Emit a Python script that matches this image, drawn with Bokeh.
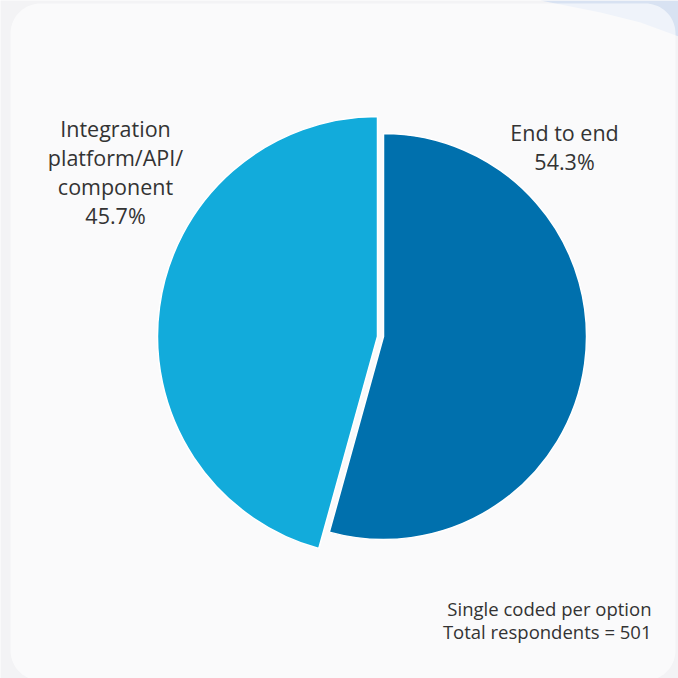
import numpy as np
from bokeh.plotting import figure
from bokeh.models import Range1d
from bokeh.core.properties import value
from bokeh.embed import file_html
from bokeh.resources import INLINE

# ---- data ----
categories = ["End to end", "Integration platform/API/component"]
label_lines = [["End to end"], ["Integration", "platform/API/", "component"]]
shares = [54.3, 45.7]
colors = ["#0070AD", "#12ABDB"]
footnote = ["Single coded per option", "Total respondents = 501"]

W = H = 678
p = figure(width=W, height=H, output_backend="svg", toolbar_location=None,
           x_range=Range1d(0, W), y_range=Range1d(0, H), min_border=0)
p.axis.visible = False
p.grid.visible = False
p.outline_line_color = None
p.background_fill_color = "#f3f3f5"
p.border_fill_color = "#f3f3f5"

def Y(sy):
    return H - sy

# decorative wave top right
wx = [540, 600, 640, 678, 700, 700]
wy = [0, 12, 22, 36, 36, 0]
p.patch(wx, [Y(v) for v in wy], fill_color="#d8e2f2", line_color=None)

# rounded card
def rounded(x0, y0, x1, y1, r, n=20):
    xs, ys = [], []
    corners = [(x1 - r, y0 + r, -90, 0), (x1 - r, y1 - r, 0, 90),
               (x0 + r, y1 - r, 90, 180), (x0 + r, y0 + r, 180, 270)]
    for cx, cy, a0, a1 in corners:
        t = np.radians(np.linspace(a0, a1, n))
        xs += list(cx + r * np.cos(t))
        ys += list(cy + r * np.sin(t))
    return xs, ys

cx_, cy_ = rounded(10, 3, 675, 680, 30)
p.patch(cx_, [Y(v) for v in cy_], fill_color="white", fill_alpha=0.6, line_color=None)

# pie
cum = np.cumsum([0] + shares)
start_deg = 90 - cum[:-1] / 100 * 360   # clockwise from top
end_deg = 90 - cum[1:] / 100 * 360
centers_x = [383, 377]
centers_y = [336, 336]
radii = [203, 220]
for i in range(len(shares)):
    p.wedge(x=centers_x[i], y=Y(centers_y[i]), radius=radii[i],
            start_angle=np.radians(end_deg[i]), end_angle=np.radians(start_deg[i]),
            direction="anticlock", fill_color=colors[i], line_color="white", line_width=1.5)

font = value("Open Sans")
# labels
lab_pos = [(564, 132), (115, 128)]
for i in range(len(shares)):
    lines = label_lines[i] + [f"{shares[i]:.1f}%"]
    lx, ly = lab_pos[i]
    for k, t in enumerate(lines):
        p.text(x=[lx], y=[Y(ly + 29 * k)], text=[t], text_font=font,
               text_font_size="21.5px", text_color="#333333",
               text_align="center", text_baseline="middle")

for k, t in enumerate(footnote):
    p.text(x=[651], y=[Y(608 + 23 * k)], text=[t], text_font=font,
           text_font_size="18.5px", text_color="#333333",
           text_align="right", text_baseline="middle")

open("out.html", "w").write(file_html(p, INLINE))
